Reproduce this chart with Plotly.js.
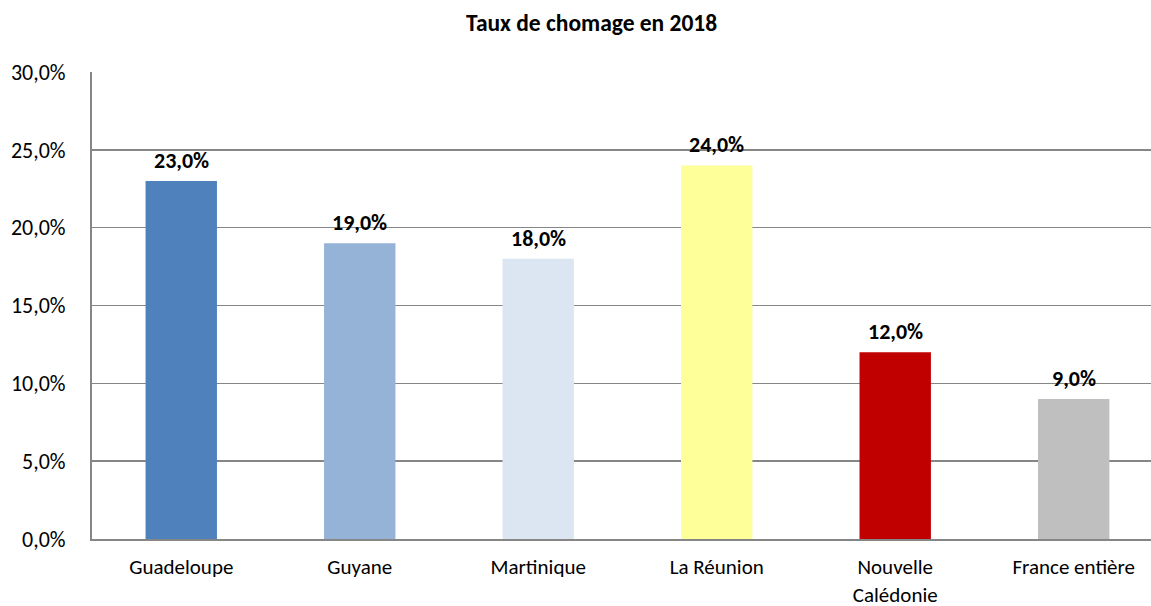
<!DOCTYPE html>
<html><head><meta charset="utf-8">
<script src="https://cdn.plot.ly/plotly-3.0.1.min.js"></script>
<style>html,body{margin:0;padding:0;background:#fff}</style>
</head><body>
<div id="chart" style="width:1151px;height:606px"></div>
<script>
const categories = ["Guadeloupe", "Guyane", "Martinique", "La Réunion", "Nouvelle<br>Calédonie", "France entière"];
const values = [23.0, 19.0, 18.0, 24.0, 12.0, 9.0];
const barColors = ["#4F81BD", "#95B3D7", "#DCE6F2", "#FFFF99", "#C00000", "#BFBFBF"];
const yTicks = [0, 5, 10, 15, 20, 25, 30];
const fmt = v => v.toFixed(1).replace('.', ',') + '%';
const FONT = "Carlito, Calibri, Lato, sans-serif";

const trace = {
  type: 'bar', x: categories, y: values,
  marker: {color: barColors}, width: 0.40, hoverinfo: 'x+y'
};
const annotations = categories.map((c, i) => ({
  x: c, y: values[i], xref: 'x', yref: 'y', text: '<b>' + fmt(values[i]) + '</b>',
  showarrow: false, yanchor: 'bottom', yshift: 5,
  font: {family: FONT, size: 22, color: '#000'}
}));
const layout = {
  width: 1151, height: 606,
  margin: {l: 92, r: 0, t: 72, b: 67},
  paper_bgcolor: '#fff', plot_bgcolor: '#fff',
  showlegend: false,
  title: {text: '<b>Taux de chomage en 2018</b>', x: 0.514, xanchor: 'center', y: 0.962, yanchor: 'middle',
          font: {family: FONT, size: 23.5, color: '#000'}},
  xaxis: {type: 'category', range: [-0.5, 5.433], showgrid: false, showline: true, linecolor: '#868686', linewidth: 2,
          ticks: '', tickfont: {family: FONT, size: 21, color: '#000'}, ticklabelstandoff: 8, fixedrange: true},
  yaxis: {range: [0, 30], tickvals: yTicks, ticktext: yTicks.map(fmt), showgrid: true, gridcolor: '#868686', gridwidth: 1.5,
          showline: true, linecolor: '#868686', linewidth: 2, zeroline: false, ticks: '',
          tickfont: {family: FONT, size: 22, color: '#000'}, ticklabelstandoff: 20, fixedrange: true},
  annotations: annotations
};
Plotly.newPlot('chart', [trace], layout, {displayModeBar: false, staticPlot: true});
</script>
</body></html>
